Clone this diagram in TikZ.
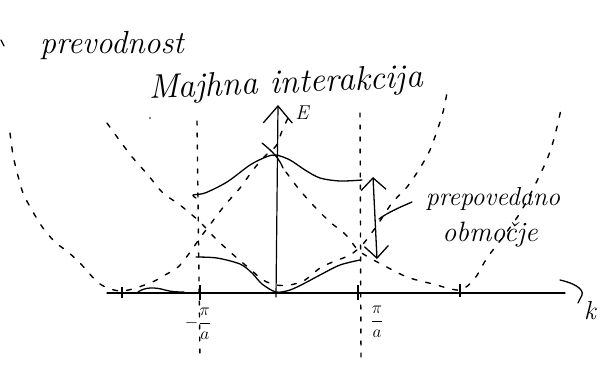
\documentclass[tikz,border=0pt]{standalone}
\usetikzlibrary{arrows.meta}
\begin{document}
\begin{tikzpicture}[x=1pt,y=-1pt,
  pen/.style={line width=1.3pt,line cap=round,line join=round},
  dashline/.style={line width=1.4pt,line cap=round,dash pattern=on 5pt off 9pt},
  dotv/.style={line width=1.4pt,line cap=round,dash pattern=on 4pt off 8pt},
  tickmark/.style={line width=1.3pt},
  bigtick/.style={line width=2.6pt},
  hand/.style={font=\fontsize{#1}{#1}\selectfont\itshape,inner sep=0pt},
  mathlab/.style={font=\fontsize{19}{21}\selectfont,inner sep=0pt}]
\useasboundingbox (0,0) rectangle (609,365);
% vertical dotted guides at -pi/a and pi/a
\coordinate (lgTop) at (197,121);
\coordinate (lgBot) at (200,358);
\coordinate (rgTop) at (360,113);
\coordinate (rgBot) at (361,358);
\draw[dotv] (lgTop) -- (lgBot);
\draw[dotv] (rgTop) -- (rgBot);
% k axis
\coordinate (kL) at (107,293);
\coordinate (kR) at (565,293);
\draw[pen,line width=1.2pt] (kL) -- (kR);
\draw[pen] (138,292) .. controls (145,287) and (155,287) .. (165,290) .. controls (172,292) and (178,292) .. (184,292);
\draw[pen] (560,280) .. controls (574,283) and (584,289) .. (582,295) -- (578,303);
\node[hand=26] (klab) at (590,311) {k};
% ticks
\draw[tickmark] (122,287) -- (122,298);
\draw[bigtick] (200,285) -- (200,300);
\draw[bigtick] (358,285) -- (358,300);
\draw[tickmark] (460,284) -- (460,297);
\node[mathlab] (mpa) at (198,324) {$\displaystyle -\frac{\pi}{a}$};
\node[mathlab] (ppa) at (377,322) {$\displaystyle \frac{\pi}{a}$};
% E axis
\coordinate (Eb) at (276,297);
\coordinate (Et) at (278,105);
\draw[pen,line width=1.2pt,-{Straight Barb[length=17pt,width=29pt,line width=1.3pt]}] (Eb) -- (Et);
\node[hand=20] (Elab) at (302,113) {E};
% dashed free-electron parabolas
\draw[dashline] plot[smooth] coordinates {(107,123) (120,141) (133,158) (148,175) (163,193) (180,205) (200,222) (217,240) (237,258) (250,269) (263,280) (276,285) (290,285) (305,280) (320,268) (335,261) (350,255) (363,244) (378,224) (392,203) (407,187) (420,168) (430,150) (438,128) (443,112) (447,93)};
\draw[dashline] plot[smooth] coordinates {(286,172) (298,188) (313,205) (330,222) (345,234) (358,250) (370,258) (383,265) (407,277) (433,284) (460,290) (475,278) (487,258) (503,237) (520,213) (535,185) (548,157) (555,135) (562,105)};
\draw[dashline] plot[smooth] coordinates {(10,133) (13,155) (17,172) (23,193) (33,212) (43,228) (55,242) (68,252) (80,263) (100,284) (122,291) (150,283) (165,275) (178,267) (188,255) (200,238) (212,222) (225,205) (240,188) (253,170) (265,156) (276,146) (282,131) (288,118)};
% solid bands
\draw[pen] plot[smooth] coordinates {(196,198) (193,195) (205,193) (227,182) (250,165) (266,157) (276,155) (290,160) (305,170) (320,178) (340,181) (362,180)};
\draw[pen] plot[smooth] coordinates {(196,257) (217,258) (240,264) (252,273) (262,284) (276,292) (290,290) (305,283) (320,275) (340,265) (360,260)};
\draw[pen] (262,143) .. controls (272,151) and (279,158) .. (283,168);
% gap arrow and pointer
\coordinate (gTop) at (373,177);
\coordinate (gBot) at (377,259);
\draw[pen,{Straight Barb[length=12pt,width=25pt,line width=1.3pt]}-{Straight Barb[length=12pt,width=24pt,line width=1.3pt]}] (gTop) -- (gBot);
\coordinate (pTo) at (379,219);
\node[hand=26,anchor=base] (prep) at (493,205) {prepovedano};
\node[hand=28,anchor=base] (obm) at (490,241) {območje};
\draw[pen] (412,202) .. controls (398,208) and (387,213) .. (pTo);
% top labels
\node[hand=32,anchor=base] (prev) at (112,53) {prevodnost};
\node[hand=34,anchor=base,rotate=2.4] (maj) at (286,93) {Majhna interakcija};
\draw[pen] (1,40) -- (4,46);
\fill (150,118) circle (0.9pt);
\end{tikzpicture}
\end{document}
